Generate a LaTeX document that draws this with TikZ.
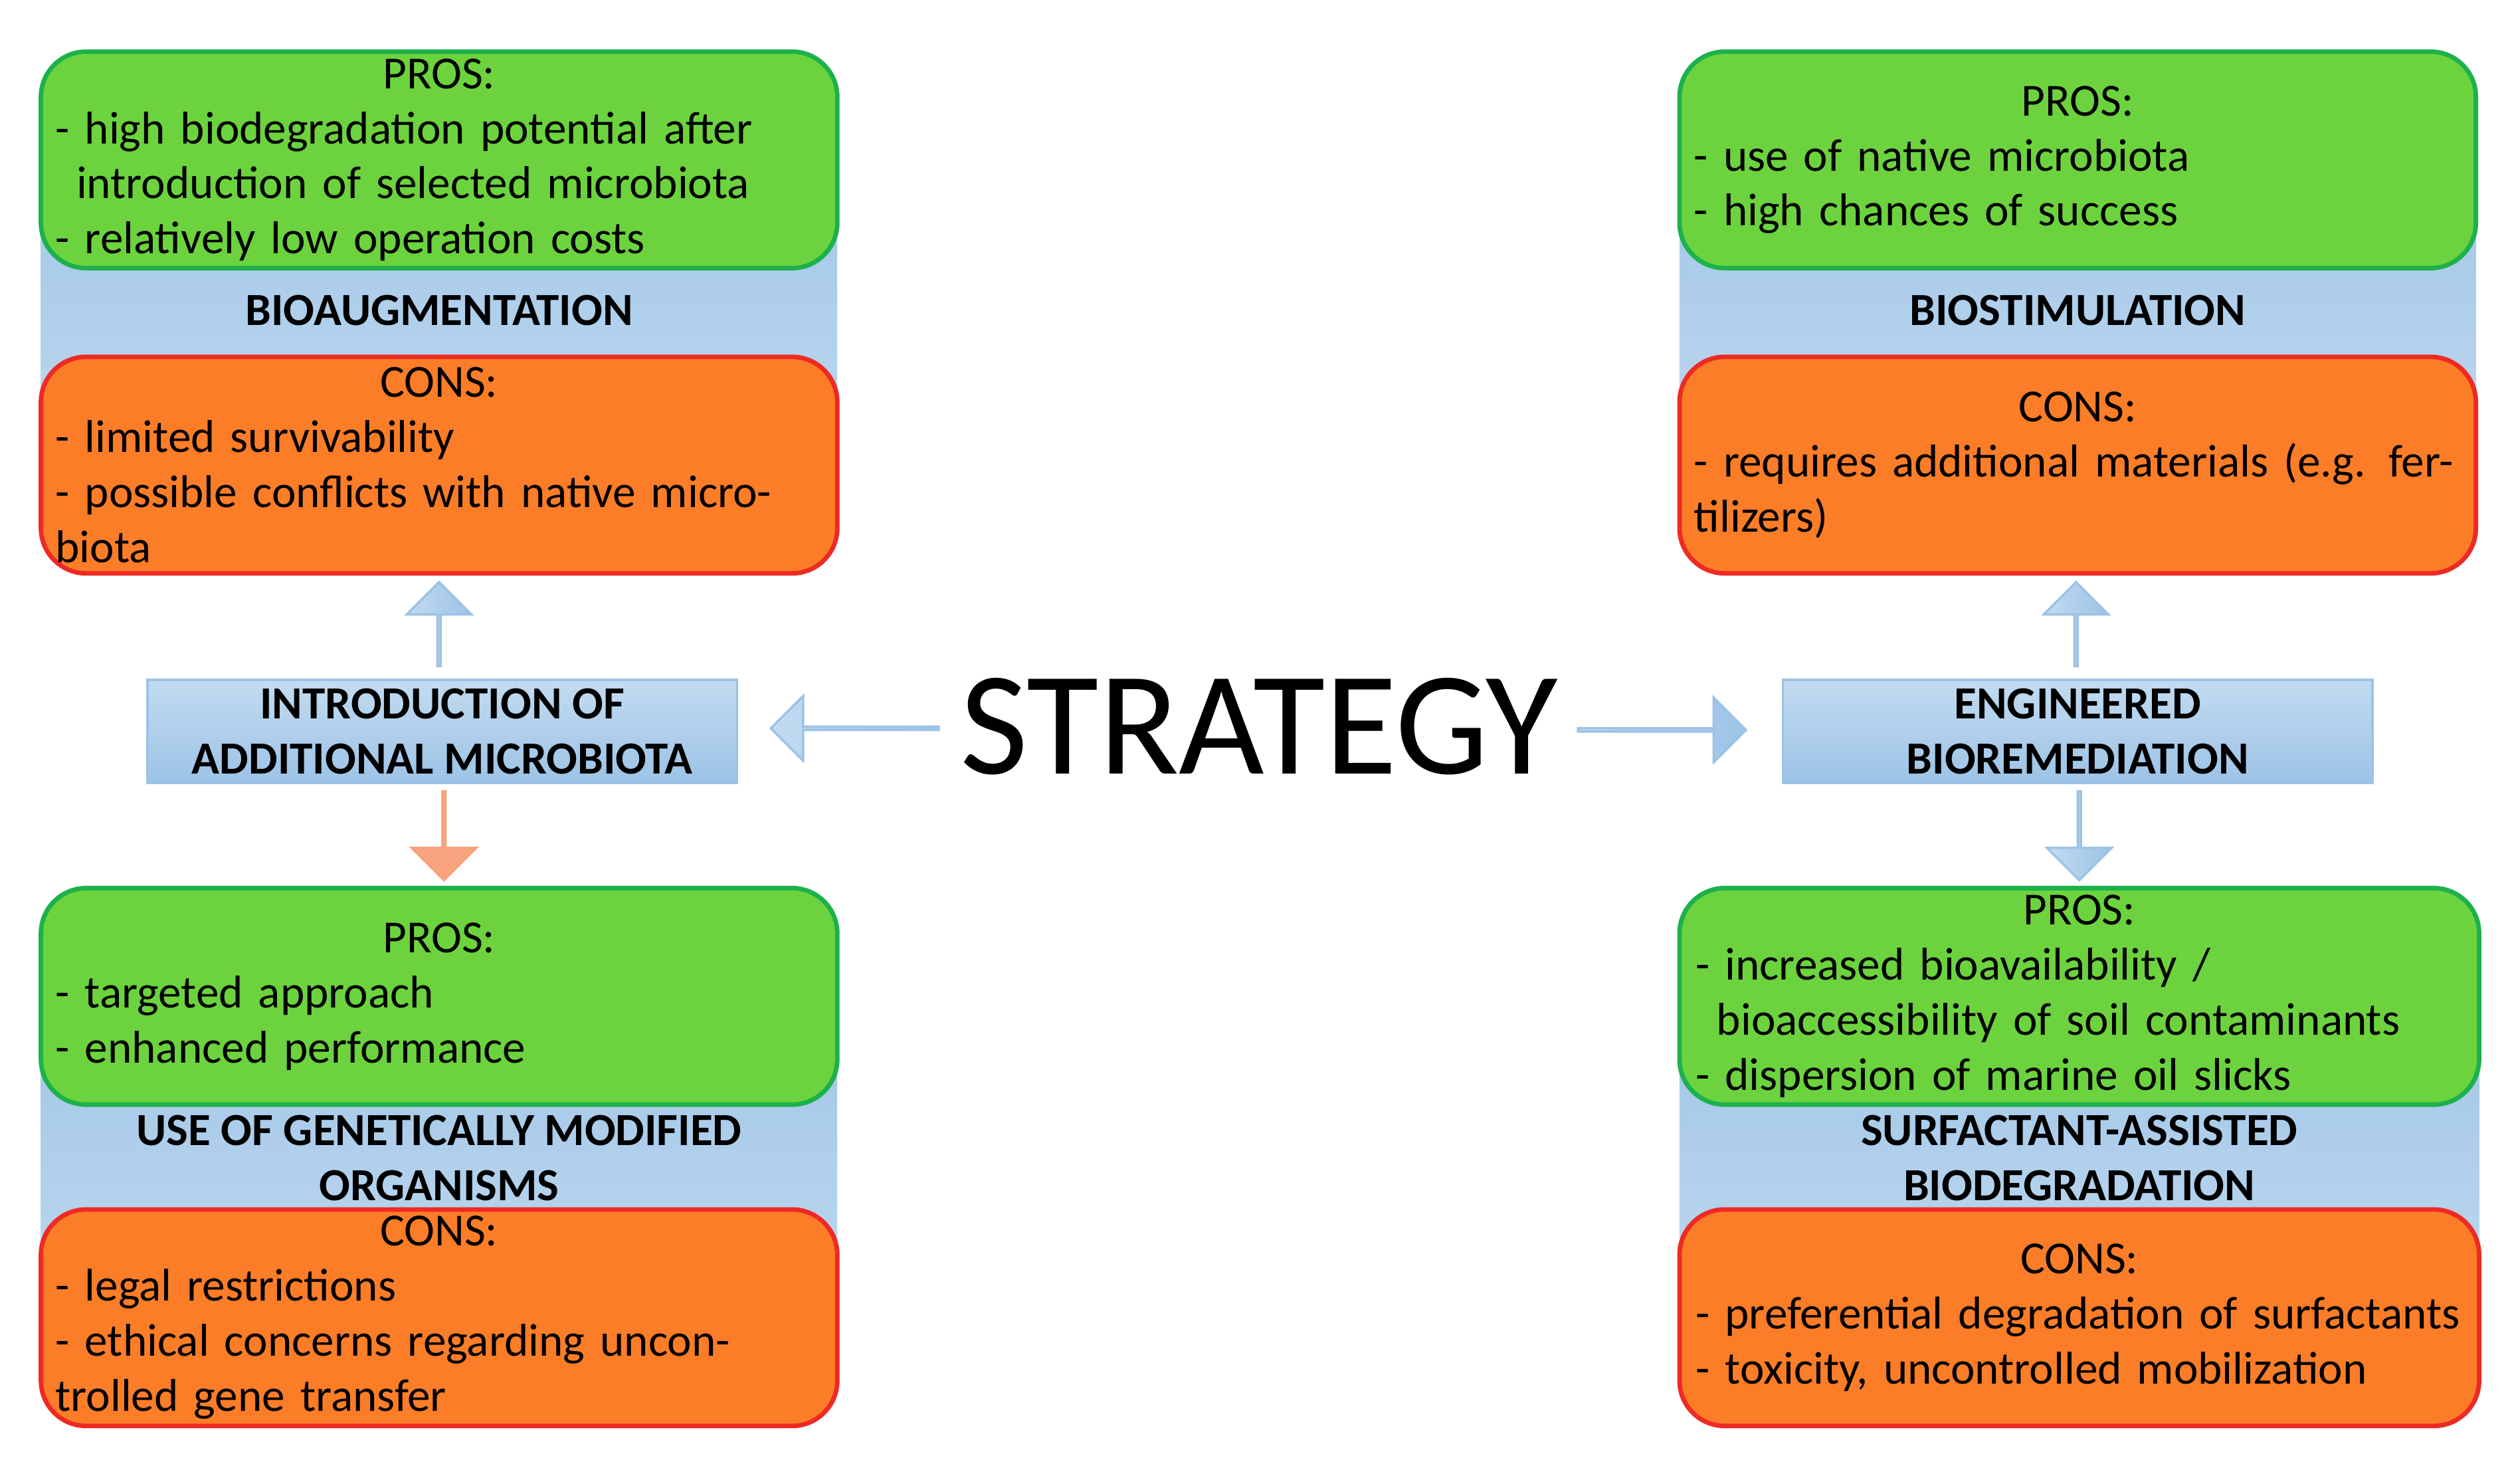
\documentclass[tikz,border=0pt]{standalone}
\usepackage{fontspec}
\setmainfont{Carlito}
\usetikzlibrary{shapes.arrows, positioning}
\definecolor{prosgreen}{HTML}{6CD33F}
\definecolor{prosedge}{HTML}{1DB14B}
\definecolor{consorange}{HTML}{FB7D28}
\definecolor{consedge}{HTML}{EE2A24}
\definecolor{stripblue}{HTML}{9CC3E6}
\definecolor{stripblue2}{HTML}{C3DBF0}
\definecolor{pinkarrow}{HTML}{F8A27E}
\newcommand{\itm}[1]{\par\hyphenpenalty=10000\hangindent=0.13cm\hangafter=1 - #1}
\tikzset{
  pros/.style={rectangle,rounded corners=0.28cm,draw=prosedge,thick,fill=prosgreen,minimum width=4.93cm,minimum height=1.34cm,text width=4.75cm,inner sep=0pt,font=\fontsize{8.1}{9.7}\selectfont},
  cons/.style={pros,draw=consedge,fill=consorange},
  strip/.style={rectangle,top color=stripblue,bottom color=stripblue2,draw=none,minimum width=4.93cm,inner sep=0pt},
  title/.style={font=\fontsize{8.1}{9.7}\selectfont\bfseries,align=center},
  method/.style={rectangle,top color=stripblue2,bottom color=stripblue,draw=stripblue,minimum width=3.65cm,minimum height=0.64cm,inner sep=0pt,font=\fontsize{8.1}{9.7}\selectfont\bfseries,align=center},
  blockarrow/.style={single arrow,draw=stripblue,top color=stripblue2,bottom color=stripblue,shading angle=90,single arrow head extend=0.13cm,minimum height=#1,minimum width=0.40cm,inner sep=0pt},
}
\begin{document}
\begin{tikzpicture}[x=0.01cm,y=-0.01cm]
\useasboundingbox (0,0) rectangle (1561,914);
% blue strips behind the boxes
\node[strip,minimum height=2.4cm] (s1) at (272,192) {};
\node[strip,minimum height=2.4cm] (s2) at (1287,192) {};
\node[strip,minimum height=2.4cm] (s3) at (272,717) {};
\node[strip,minimum height=2.4cm,minimum width=4.95cm] (s4) at (1288,717) {};
% bioaugmentation
\node[pros] (p1) at (272,99) {\centering PROS:\par\raggedright
  \itm{high biodegradation potential after introduction of selected microbiota}
  \itm{relatively low operation costs}};
\node[cons] (c1) at (272,288) {\centering CONS:\par\raggedright
  \itm{limited survivability}
  \itm{possible conflicts with native microbiota}};
\node[title] (t1) at (272,192) {BIOAUGMENTATION};
% biostimulation
\node[pros] (p2) at (1287,99) {\centering PROS:\par\raggedright
  \itm{use of native microbiota}
  \itm{high chances of success}};
\node[cons] (c2) at (1287,288) {\centering CONS:\par\raggedright
  \itm{requires additional materials (e.g. fertilizers)}};
\node[title] (t2) at (1287,192) {BIOSTIMULATION};
% genetically modified organisms
\node[pros] (p3) at (272,617) {\centering PROS:\par\raggedright
  \itm{targeted approach}
  \itm{enhanced performance}};
\node[cons] (c3) at (272,816) {\centering CONS:\par\raggedright
  \itm{legal restrictions}
  \itm{ethical concerns regarding uncontrolled gene transfer}};
\node[title] (t3) at (272,717) {USE OF GENETICALLY MODIFIED\\ORGANISMS};
% surfactant-assisted
\node[pros,minimum width=4.95cm] (p4) at (1288,617) {\centering PROS:\par\raggedright
  \itm{increased bioavailability / bioaccessibility of soil contaminants}
  \itm{dispersion of marine oil slicks}};
\node[cons,minimum width=4.95cm] (c4) at (1288,816) {\centering CONS:\par\raggedright
  \itm{preferential degradation of surfactants}
  \itm{toxicity, uncontrolled mobilization}};
\node[title] (t4) at (1288,717) {SURFACTANT-ASSISTED\\BIODEGRADATION};
% centre
\node[font=\fontsize{26}{30}\selectfont] (strategy) at (780,450) {STRATEGY};
\node[method] (intro) at (274,453) {INTRODUCTION OF\\ADDITIONAL MICROBIOTA};
\node[method] (eng) at (1287,453) {ENGINEERED\\BIOREMEDIATION};
\node[blockarrow=1.04cm,rotate=180] (al) at (530,451) {};
\node[blockarrow=1.04cm] (ar) at (1029,452) {};
\node[blockarrow=0.52cm,rotate=90] (au1) at (272,387) {};
\node[blockarrow=0.52cm,rotate=90] (au2) at (1286,387) {};
\node[blockarrow=0.55cm,rotate=-90,draw=pinkarrow,top color=pinkarrow,bottom color=pinkarrow] (ad1) at (275,517) {};
\node[blockarrow=0.55cm,rotate=-90] (ad2) at (1288,517) {};
\end{tikzpicture}
\end{document}
